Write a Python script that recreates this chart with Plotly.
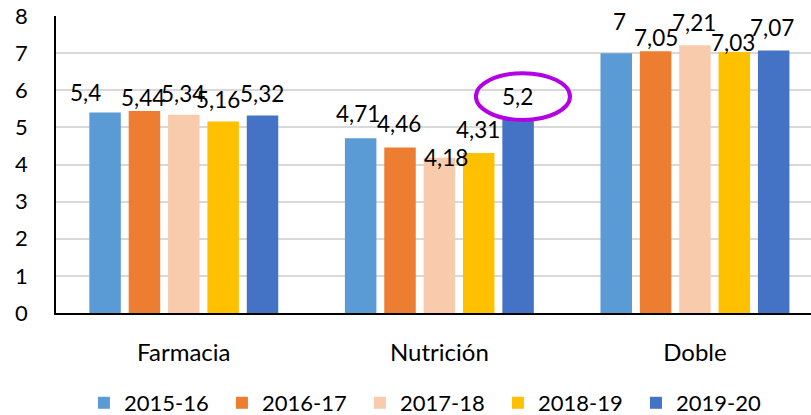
import plotly.graph_objects as go

categories = ["Farmacia", "Nutrición", "Doble"]
series_names = ["2015-16", "2016-17", "2017-18", "2018-19", "2019-20"]
v_2015_16 = [5.40, 4.71, 7.00]
v_2016_17 = [5.44, 4.46, 7.05]
v_2017_18 = [5.34, 4.18, 7.21]
v_2018_19 = [5.16, 4.31, 7.03]
v_2019_20 = [5.32, 5.20, 7.07]
values = [v_2015_16, v_2016_17, v_2017_18, v_2018_19, v_2019_20]
colors = ["#5B9BD5", "#ED7D31", "#F8CBAD", "#FFC000", "#4472C4"]
y_ticks = [0, 1, 2, 3, 4, 5, 6, 7, 8]

# label offsets (px) per series/category: (dx, dy upward)
label_offsets = [
    [(-20, 20), (-3, 25), (3, 32)],
    [(-1, 14), (-1, 24), (0, 14)],
    [(-1, 21), (7, 0), (-1, 23)],
    [(-5, 22), (-1, 23), (-1, 10)],
    [(0, 22), (0, 23), (-2, 23)],
]

FONT = "Lato, 'Open Sans', sans-serif"
fig = go.Figure()
for name, vals, col in zip(series_names, values, colors):
    fig.add_trace(go.Bar(x=categories, y=vals, name=name, marker_color=col,
                         marker_line_width=0))

def fmt(v):
    s = ("%.2f" % v).rstrip("0").rstrip(".")
    return s.replace(".", ",")

PITCH = 39.3
ann = []
for i, vals in enumerate(values):
    for j, v in enumerate(vals):
        dx, dy = label_offsets[i][j]
        ann.append(dict(x=categories[j], y=v, xref="x", yref="y", text=fmt(v),
                        showarrow=False, xanchor="center", yanchor="middle",
                        xshift=(i - 2) * PITCH + dx, yshift=dy,
                        font=dict(family=FONT, size=22.5, color="#000000")))

fig.update_layout(
    width=811, height=415,
    margin=dict(l=56, r=0, t=16, b=102, autoexpand=False),
    paper_bgcolor="white", plot_bgcolor="white",
    barmode="group", bargap=0.23, bargroupgap=0.2,
    font=dict(family=FONT, size=22, color="#000000"),
    annotations=ann,
    showlegend=True,
    legend=dict(orientation="h", x=0.037, xanchor="left", y=-0.303, yanchor="middle",
                font=dict(family=FONT, size=22, color="#000000"),
                entrywidth=93, entrywidthmode="pixels", traceorder="normal"),
    shapes=[dict(type="circle", xref="x", yref="y", x0=1.143, x1=1.511, y0=5.2, y1=6.46,
                 line=dict(color="#B400E4", width=4), fillcolor="rgba(0,0,0,0)")],
)
fig.update_xaxes(range=[-0.5, 2.454], showline=True, linecolor="#000000", linewidth=1.5,
                 showgrid=False, ticks="", ticklabelstandoff=17, automargin=False,
                 tickfont=dict(family=FONT, size=24, color="#000000"))
fig.update_yaxes(range=[0, 8], tickvals=y_ticks, showline=True, linecolor="#000000",
                 linewidth=1.5, showgrid=True, gridcolor="#D9D9D9", gridwidth=1.5,
                 zeroline=False, ticks="", ticklabelstandoff=22, automargin=False,
                 tickfont=dict(family=FONT, size=22, color="#000000"))
fig.write_html("out.html", config={"displayModeBar": False},
               post_script="document.body.style.margin='0';document.body.style.padding='0';"
                           "document.body.style.overflow='hidden';")
